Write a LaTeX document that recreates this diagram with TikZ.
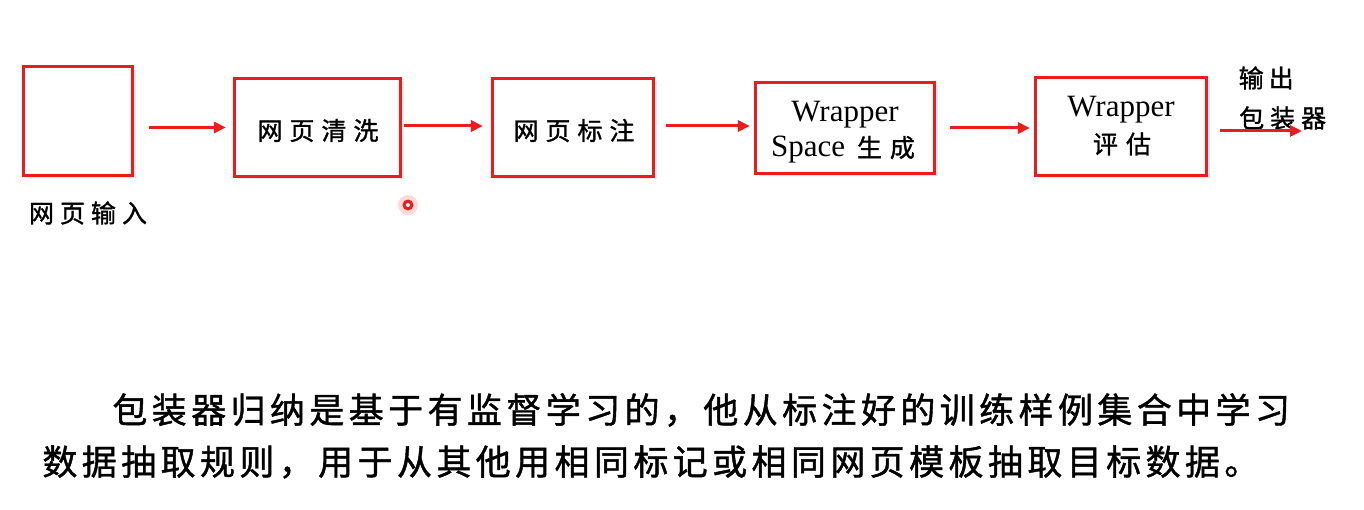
\documentclass[tikz,border=0pt]{standalone}
\usepackage{fontspec}
\setmainfont{Liberation Serif}
\newfontfamily\cjk[FakeBold=1.2]{Noto Sans CJK SC}
\usetikzlibrary{shadows,arrows.meta}
\definecolor{boxred}{RGB}{235,28,28}
\makeatletter
\newcommand\spc[2]{\@tfor\spcch:=#2\do{\makebox[#1]{\spcch}}}
\makeatother
\newcommand\boxcjk{\cjk\fontsize{25}{30}\selectfont}
\tikzset{
  stage/.style={draw=boxred, line width=3.2pt, fill=white, inner sep=0pt,
    drop shadow={opacity=0.18, shadow xshift=3pt, shadow yshift=-3pt}},
  txt/.style={inner sep=0pt, anchor=base, font=\fontsize{31}{38}\selectfont},
  arr/.style={draw=boxred, line width=3pt, -{Triangle[length=12pt,width=11pt]}},
  lbl/.style={inner sep=0pt, font=\boxcjk},
  para/.style={inner sep=0pt, anchor=west, font=\cjk\fontsize{35}{40}\selectfont}
}
\begin{document}
\begin{tikzpicture}[x=1pt,y=-1pt]
\path[fill=white,use as bounding box] (0,0) rectangle (1364,510);
% boxes
\node[stage, minimum width=109pt, minimum height=109pt] (b1) at (78,121) {};
\node[stage, minimum width=166pt, minimum height=98pt] (b2) at (317.5,127.5) {};
\node[stage, minimum width=161pt, minimum height=98pt] (b3) at (573,127.5) {};
\node[stage, minimum width=179pt, minimum height=91pt] (b4) at (845,128) {};
\node[stage, minimum width=171pt, minimum height=98pt] (b5) at (1121,126.5) {};
% box texts
\node[lbl] (t2) at (318,130.5) {\spc{32pt}{网页清洗}};
\node[lbl] (t3) at (574,130.5) {\spc{32pt}{网页标注}};
\node[txt] (t4a) at (845,122) {Wrapper};
\node[txt] (t4b) at (845,157) {Space {\boxcjk\spc{33pt}{生成}}};
\node[txt] (t5a) at (1121,117) {Wrapper};
\node[lbl] (t5b) at (1122,144) {\spc{33pt}{评估}};
% labels
\node[lbl] (in) at (88,213) {\spc{31pt}{网页输入}};
\node[lbl, anchor=west] (out1) at (1236,78) {\spc{30pt}{输出}};
\node[lbl, anchor=west] (out2) at (1236,118) {\spc{31pt}{包装器}};
% arrows
\coordinate (oend) at (1302,131);
\draw[arr, shorten <=15pt, shorten >=7pt] (b1.east |- b2.west) -- (b2.west);
\draw[arr, shorten <=2pt, shorten >=8pt] (b2.east |- 0,126) -- (b3.west |- 0,126);
\draw[arr, shorten <=11pt, shorten >=4pt] (b3.east |- 0,126) -- (b4.west |- 0,126);
\draw[arr, shorten <=14pt, shorten >=4pt] (b4.east |- 0,128) -- (b5.west |- 0,128);
\draw[arr, shorten <=12pt] (b5.east |- oend) -- (oend);
% cursor marker
\fill[red!30, opacity=0.5] (408,205) circle (10pt);
\fill[boxred] (408,205) circle (5.5pt);
\fill[white] (408,205) circle (2pt);
% paragraph
\node[para] (p1) at (110,410) {\spc{39.4pt}{包装器归纳是基于有监督学习的，他从标注好的训练样例集合中学习}};
\node[para] (p2) at (40,462) {\spc{39.4pt}{数据抽取规则，用于从其他用相同标记或相同网页模板抽取目标数据。}};
\end{tikzpicture}
\end{document}
